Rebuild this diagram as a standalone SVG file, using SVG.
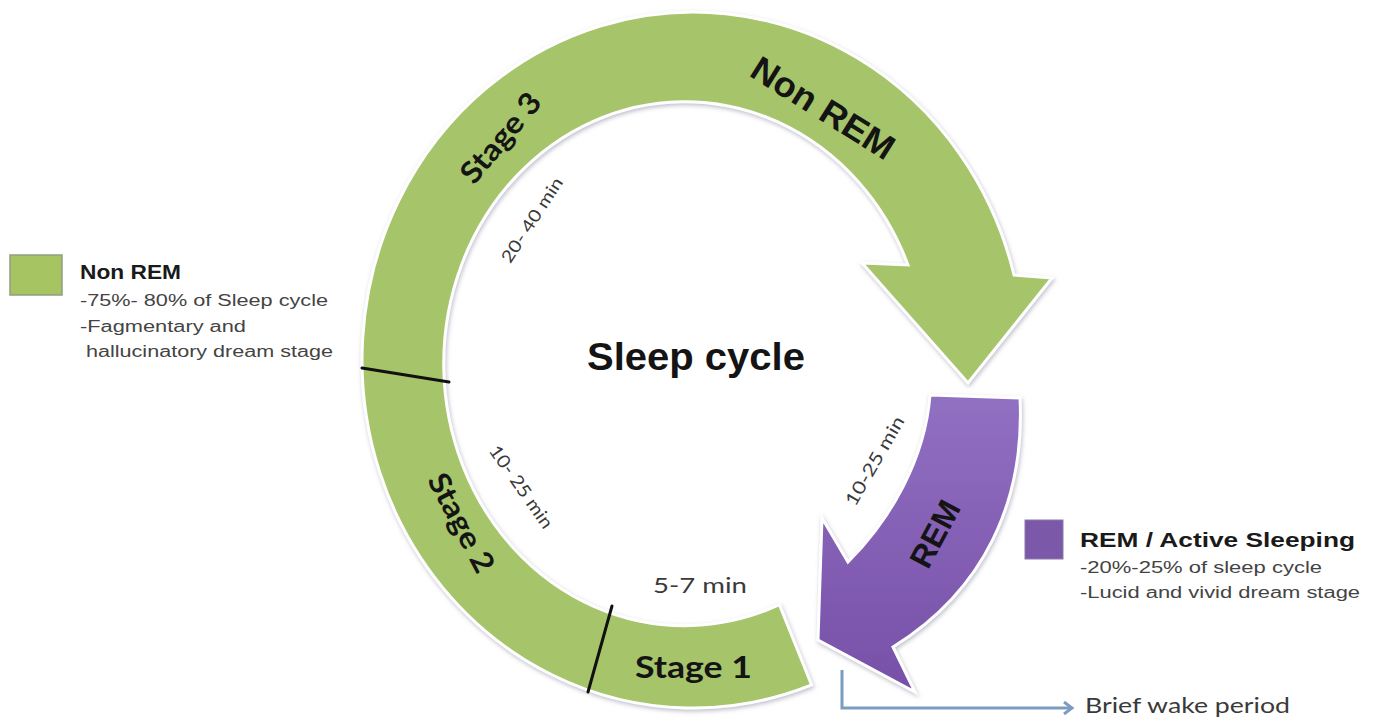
<svg xmlns="http://www.w3.org/2000/svg" width="1378" height="719" viewBox="0 0 1378 719">
  <defs>
    <linearGradient id="purp" x1="0" y1="0" x2="0" y2="1">
      <stop offset="0" stop-color="#9170c2"/>
      <stop offset="1" stop-color="#774fa8"/>
    </linearGradient>
    <filter id="sh" x="-10%" y="-10%" width="120%" height="120%">
      <feDropShadow dx="1" dy="2" stdDeviation="2" flood-color="#8a8aa6" flood-opacity="0.55"/>
    </filter>
    <marker id="chev" markerWidth="14" markerHeight="14" refX="10" refY="7" orient="auto" markerUnits="userSpaceOnUse">
      <polyline points="2,1 10,7 2,13" fill="none" stroke="#7b9cc2" stroke-width="3"/>
    </marker>
    <style>
      .shape { stroke: #ffffff; stroke-width: 3; filter: url(#sh); }
      .green { fill: #a6c46a; }
      .div { stroke: #111; stroke-width: 3; stroke-linecap: round; }
      .big { font-family: "Lato", "Liberation Sans", sans-serif; font-weight: bold; fill: #141414; }
      .arial { font-family: "Liberation Sans", Arial, sans-serif; font-weight: bold; fill: #141414; }
      .min { font-family: "Lato", "Liberation Sans", sans-serif; fill: #3a3a3a; }
      .leg { font-family: "Liberation Sans", Arial, sans-serif; fill: #444; }
      .legb { font-family: "Liberation Sans", Arial, sans-serif; font-weight: bold; fill: #1a1a1a; }
    </style>
  </defs>
  <rect width="1378" height="719" fill="#ffffff"/>

  <g id="non-rem-ring">
    <path class="shape green" d="M811.6,684.9 A331,348 0 1 1 1014,275 L1052,278 L968,383 L862,263 L908,265 A241,262 0 1 0 779.4,604.6 Z"/>
    <line class="div" x1="362" y1="368" x2="449" y2="382"/>
    <line class="div" x1="588" y1="692" x2="612" y2="606"/>
    <text class="big" font-size="30" text-anchor="middle" textLength="108" lengthAdjust="spacingAndGlyphs" transform="translate(501,138) rotate(-50)" y="10">Stage 3</text>
    <text class="big" font-size="30" text-anchor="middle" textLength="108" lengthAdjust="spacingAndGlyphs" transform="translate(461,523) rotate(62)" y="10">Stage 2</text>
    <text class="big" font-size="31" x="635" y="678" textLength="117" lengthAdjust="spacingAndGlyphs">Stage 1</text>
    <text class="arial" font-size="35" text-anchor="middle" textLength="162" lengthAdjust="spacingAndGlyphs" transform="translate(823,108) rotate(32)" y="12">Non REM</text>
    <text class="min" font-size="17" text-anchor="middle" textLength="98" lengthAdjust="spacingAndGlyphs" transform="translate(532,220) rotate(-57)" y="6">20- 40 min</text>
    <text class="min" font-size="18" text-anchor="middle" textLength="97" lengthAdjust="spacingAndGlyphs" transform="translate(521,487) rotate(55)" y="6">10- 25 min</text>
    <text class="min" font-size="21" x="653" y="593" textLength="94" lengthAdjust="spacingAndGlyphs">5-7 min</text>
  </g>

  <g id="rem-arrow">
    <path class="shape" fill="url(#purp)" d="M930,395 L1020,398 C1025,500 985,590 893,647 L915,692 L818,640 L822,518 L848,562 C890,520 925,460 930,395 Z"/>
    <text class="arial" font-size="32" text-anchor="middle" transform="translate(935,534) rotate(-62)" y="11">REM</text>
    <text class="min" font-size="18" text-anchor="middle" textLength="100" lengthAdjust="spacingAndGlyphs" transform="translate(875,461) rotate(-60)" y="6">10-25 min</text>
  </g>

  <g id="title">
    <text class="arial" font-size="38" x="587" y="370" textLength="218" lengthAdjust="spacingAndGlyphs">Sleep cycle</text>
  </g>

  <g id="legend-non-rem">
    <rect x="10" y="255" width="52" height="40" fill="#a6c462" stroke="#8f9e80" stroke-width="1.5"/>
    <text class="legb" font-size="20" x="80" y="279" textLength="101" lengthAdjust="spacingAndGlyphs">Non REM</text>
    <text class="leg" font-size="16" x="80" y="306" textLength="248" lengthAdjust="spacingAndGlyphs">-75%- 80% of Sleep cycle</text>
    <text class="leg" font-size="16" x="80" y="332" textLength="166" lengthAdjust="spacingAndGlyphs">-Fagmentary and</text>
    <text class="leg" font-size="16" x="86" y="357" textLength="247" lengthAdjust="spacingAndGlyphs">hallucinatory dream stage</text>
  </g>

  <g id="legend-rem">
    <rect x="1025" y="520" width="38" height="39" fill="#7b58a8" stroke="#8a7aa8" stroke-width="1"/>
    <text class="legb" font-size="21" x="1080" y="547" textLength="275" lengthAdjust="spacingAndGlyphs">REM / Active Sleeping</text>
    <text class="leg" font-size="16" x="1080" y="573" textLength="242" lengthAdjust="spacingAndGlyphs">-20%-25% of sleep cycle</text>
    <text class="leg" font-size="16" x="1080" y="598" textLength="280" lengthAdjust="spacingAndGlyphs">-Lucid and vivid dream stage</text>
  </g>

  <g id="connectors">
    <path d="M842,670 V708 H1072" fill="none" stroke="#7b9cc2" stroke-width="3" marker-end="url(#chev)"/>
  </g>

  <g id="brief-wake">
    <text class="min" font-size="22" x="1085" y="713" textLength="205" lengthAdjust="spacingAndGlyphs" fill="#222">Brief wake period</text>
  </g>
</svg>
